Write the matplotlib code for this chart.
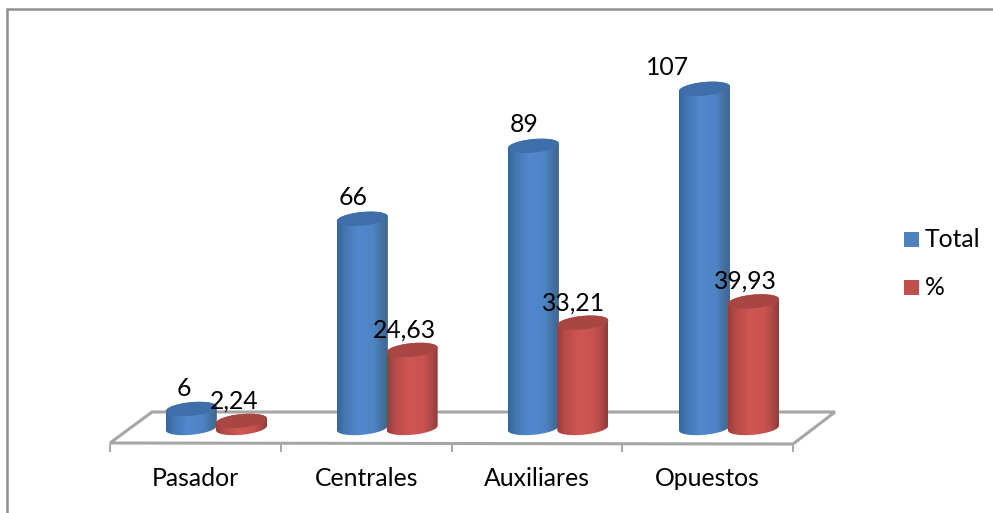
import numpy as np
import matplotlib
matplotlib.use("Agg")
import matplotlib.pyplot as plt
from matplotlib.colors import LinearSegmentedColormap
from matplotlib.patches import Polygon, Rectangle

categories = ["Pasador", "Centrales", "Auxiliares", "Opuestos"]
total = [6, 66, 89, 107]
percent = [2.24, 24.63, 33.21, 39.93]
total_labels = ["6", "66", "89", "107"]
percent_labels = ["2,24", "24,63", "33,21", "39,93"]
series_names = ["Total", "%"]

W, H = 993, 513
PX_PER_CAT = 170.75
PX_PER_VAL = 3.17
X0_PX = 195.5      # pixel of category 0
Y0_PX = 428.0      # pixel of value 0

plt.rcParams["font.family"] = ["Lato", "DejaVu Sans"]
fig = plt.figure(figsize=(W / 100, H / 100), dpi=100)
ax = fig.add_axes([0, 0, 1, 1])
ax.set_xlim(-X0_PX / PX_PER_CAT, (W - X0_PX) / PX_PER_CAT)
ax.set_ylim((Y0_PX - H) / PX_PER_VAL, Y0_PX / PX_PER_VAL)
ax.axis("off")

def dx(px):
    return px / PX_PER_CAT

def dy(px):
    return px / PX_PER_VAL

def xpx(px):
    return (px - X0_PX) / PX_PER_CAT

def ypx(px):
    return (Y0_PX - px) / PX_PER_VAL

GRAY = "#a6a6a6"
FRAME = "#8f8f8f"
# chart frame: only the top and left edges fall inside the picture
ax.plot([xpx(7), xpx(7), xpx(993)], [ypx(513), ypx(9.5), ypx(9.5)], color=FRAME, lw=1.8, zorder=1, solid_joinstyle="miter")
# floor outline
floor = [(110, 443), (152, 412), (835, 412), (793, 444)]
ax.add_patch(Polygon([(xpx(a), ypx(b)) for a, b in floor], closed=True, fill=False, ec=GRAY, lw=2.2, joinstyle="miter", zorder=2))
for i in range(len(categories) + 1):
    x = i - 0.5
    ax.plot([x, x], [ypx(443.5), ypx(452)], color=GRAY, lw=1.4, zorder=2, solid_capstyle="butt")

blue = LinearSegmentedColormap.from_list("b", [(0, "#36659c"), (0.14, "#4375b0"), (0.42, "#5288cf"), (0.72, "#4f83c5"), (0.9, "#44709f"), (1, "#3f6590")])
red = LinearSegmentedColormap.from_list("r", [(0, "#983c3a"), (0.14, "#b44a47"), (0.42, "#cf5653"), (0.72, "#c95350"), (0.9, "#a84644"), (1, "#8f3937")])
grad = np.linspace(0, 1, 256).reshape(1, -1)

HALF_W = 25.5
B = 6.8
TILT = 2.3

def cylinder(center_px, value, cmap, top_color, z):
    cx = xpx(center_px)
    a = dx(HALF_W)
    b = dy(B)
    tilt = dy(TILT)
    t = np.linspace(np.pi, 2 * np.pi, 60)
    bottom_x = cx + a * np.cos(t)
    bottom_y = b * np.sin(t) + tilt * np.cos(t)
    t2 = np.linspace(0, np.pi, 60)
    top_x = cx + a * np.cos(t2)
    top_y = value + b * np.sin(t2) + tilt * np.cos(t2)
    pts = np.column_stack([np.r_[bottom_x, top_x], np.r_[bottom_y, top_y]])
    body = Polygon(pts, closed=True, fc="none", ec="none", zorder=z)
    ax.add_patch(body)
    im = ax.imshow(grad, cmap=cmap, extent=(cx - a, cx + a, -2 * b, value + 2 * b), aspect="auto", zorder=z, interpolation="bilinear")
    im.set_clip_path(body)
    t3 = np.linspace(0, 2 * np.pi, 120)
    cap = np.column_stack([cx + a * np.cos(t3), value + b * np.sin(t3) + tilt * np.cos(t3)])
    ax.add_patch(Polygon(cap, closed=True, fc=top_color, ec="none", zorder=z + 0.1))

FS = 17.8
for i, (t_val, p_val) in enumerate(zip(total, percent)):
    base = X0_PX + i * PX_PER_CAT
    cylinder(base - 4.2 + 0.3 * i, t_val, blue, "#3f6fa8", 3 + i)
    cylinder(base + 46 - 0.1 * i, p_val, red, "#a84643", 3.5 + i)

label_pos_total = [(184, 388), (353, 198), (524, 125), (668, 68)]
label_pos_pct = [(234, 401), (404, 330), (574, 303), (745, 281)]
for (px, py), s in zip(label_pos_total, total_labels):
    ax.text(xpx(px), ypx(py), s, ha="center", va="center", fontsize=FS, color="black", zorder=20)
for (px, py), s in zip(label_pos_pct, percent_labels):
    ax.text(xpx(px), ypx(py), s, ha="center", va="center", fontsize=FS, color="black", zorder=20)

for i, c in enumerate(categories):
    ax.text(i, ypx(478), c, ha="center", va="center", fontsize=FS, color="black", zorder=20)

legend_colors = ["#4f81bd", "#c0504d"]
for name, col, ly in zip(series_names, legend_colors, [239.5, 287.5]):
    ax.add_patch(Rectangle((xpx(904), ypx(ly + 7.5)), dx(15), dy(15), fc=col, ec="none", zorder=20))
    ax.text(xpx(925), ypx(ly + 0.5), name, ha="left", va="center", fontsize=FS, color="black", zorder=20)

fig.savefig("out.png", dpi=100, facecolor="white")
